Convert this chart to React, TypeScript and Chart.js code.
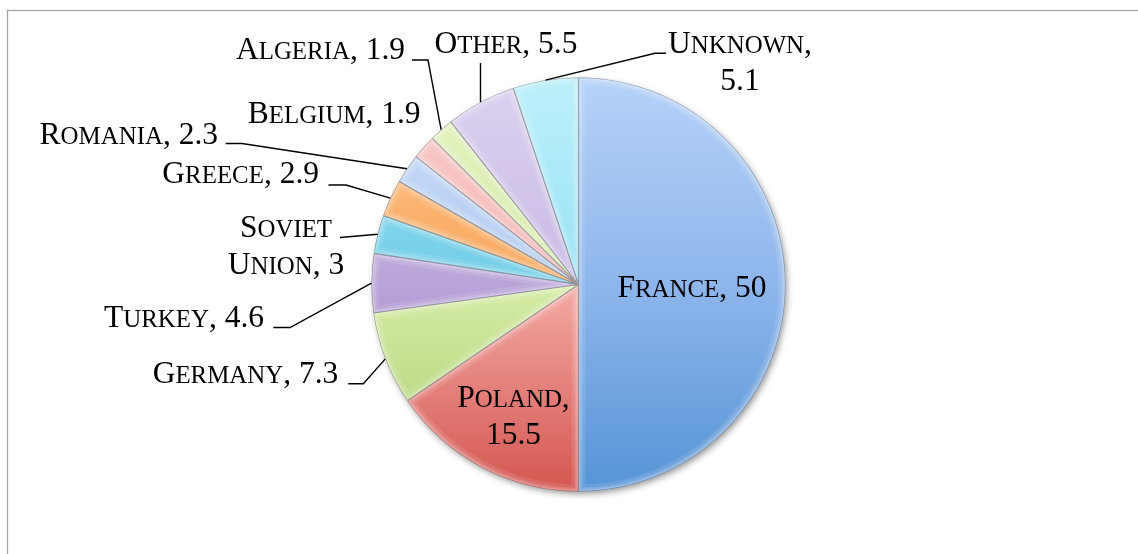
import React, { useEffect, useRef } from 'react';
import Chart from 'chart.js/auto';

// ---- data ----
const categories = ['France', 'Poland', 'Germany', 'Turkey', 'Soviet Union', 'Greece', 'Romania', 'Belgium', 'Algeria', 'Other', 'Unknown'];
const values = [50, 15.5, 7.3, 4.6, 3, 2.9, 2.3, 1.9, 1.9, 5.5, 5.1];

// ---- styles: vertical gradient stops per slice (top, middle, bottom) ----
const colorTop = ['#B6D2F8', '#FBD3D0', '#EAF6CF', '#DCD0F0', '#A6E6F6', '#FFCB98', '#CFE0FA', '#FBD0D0', '#E6F4C4', '#DCD2F0', '#BCF0FA'];
const colorMid = ['#8EB6EC', '#F4AAA5', '#D6ECA6', '#B8A4D8', '#6FCCE6', '#F8A458', '#AFC9F0', '#F2B0AE', '#D4EAA6', '#C9B9E4', '#98E2F4'];
const colorBottom = ['#5694D6', '#D45650', '#A9CC6E', '#8E72BA', '#3AAACB', '#EE8A35', '#86A8DC', '#DC8886', '#B8D67E', '#A892D0', '#62CCE6'];

// ---- label layout (offsets from pie centre, px) ----
type Layout = {
  align: 'left' | 'right' | 'center';
  dx: number;
  dy: number;
  wrap?: 'name' | 'value';
  leader?: { sx: number; ex: number; y: number } | { vertical: true; y: number };
};
const labelLayout: Layout[] = [
  { align: 'center', dx: 113.5, dy: 12.2 },
  { align: 'center', dx: -65, dy: 122.2, wrap: 'value' },
  { align: 'right', dx: -240.2, dy: 98.8, leader: { sx: -230.2, ex: -215.2, y: 99.3 } },
  { align: 'right', dx: -314.5, dy: 42.8, leader: { sx: -305.2, ex: -288.5, y: 43 } },
  { align: 'center', dx: -292.5, dy: -47.2, wrap: 'name', leader: { sx: -238.5, ex: -238.5, y: -47 } },
  { align: 'right', dx: -259.5, dy: -101.5, leader: { sx: -250, ex: -232.5, y: -99.5 } },
  { align: 'right', dx: -360.5, dy: -140.5, leader: { sx: -352.8, ex: -336.5, y: -141 } },
  { align: 'right', dx: -157.9, dy: -161.8 },
  { align: 'right', dx: -173.5, dy: -225.5, leader: { sx: -166.5, ex: -150.5, y: -224.5 } },
  { align: 'center', dx: -72.5, dy: -231.8, leader: { vertical: true, y: -221.5 } },
  { align: 'center', dx: 161.5, dy: -231.5, wrap: 'value', leader: { sx: 87.5, ex: 76.5, y: -231.2 } },
];

const FONT_SIZE = 31.5;
const SMALL = 0.79;
const LINE_H = 37;
const FAMILY = '"Liberation Serif", "Times New Roman", serif';

function segs(text: string) {
  const out: { t: string; small: boolean }[] = [];
  for (const ch of text) {
    const small = ch !== ch.toUpperCase();
    const t = small ? ch.toUpperCase() : ch;
    const last = out[out.length - 1];
    if (last && last.small === small) last.t += t;
    else out.push({ t, small });
  }
  return out;
}

function drawSmallCaps(ctx: CanvasRenderingContext2D, text: string, x: number, y: number, align: string) {
  const parts = segs(text);
  let total = 0;
  const widths: number[] = [];
  for (const p of parts) {
    ctx.font = `${p.small ? FONT_SIZE * SMALL : FONT_SIZE}px ${FAMILY}`;
    const w = ctx.measureText(p.t).width;
    widths.push(w);
    total += w;
  }
  let cx = align === 'right' ? x - total : align === 'center' ? x - total / 2 : x;
  ctx.textAlign = 'left';
  ctx.textBaseline = 'alphabetic';
  parts.forEach((p, i) => {
    ctx.font = `${p.small ? FONT_SIZE * SMALL : FONT_SIZE}px ${FAMILY}`;
    ctx.fillText(p.t, cx, y);
    cx += widths[i];
  });
}

function pieGeom(chart: any) {
  const a = chart.chartArea;
  const cx = (a.left + a.right) / 2;
  const cy = (a.top + a.bottom) / 2;
  const r = Math.min(a.right - a.left, a.bottom - a.top) / 2;
  return { cx, cy, r };
}

const framePlugin = {
  id: 'frame',
  beforeDraw(chart: any) {
    const ctx = chart.ctx;
    ctx.save();
    ctx.fillStyle = '#ffffff';
    ctx.fillRect(0, 0, chart.width, chart.height);
    ctx.strokeStyle = '#A6A6A6';
    ctx.lineWidth = 1.3;
    ctx.strokeRect(7.5, 10.5, chart.width + 50, chart.height + 50);
    ctx.restore();
  },
  beforeDatasetsDraw(chart: any) {
    const ctx = chart.ctx;
    const { cx, cy, r } = pieGeom(chart);
    ctx.save();
    ctx.shadowColor = 'rgba(0,0,0,0.45)';
    ctx.shadowBlur = 7;
    ctx.shadowOffsetX = 2;
    ctx.shadowOffsetY = 3;
    ctx.fillStyle = '#888';
    ctx.beginPath();
    ctx.arc(cx, cy, r - 1, 0, Math.PI * 2);
    ctx.fill();
    ctx.restore();
  },
};

const bevelPlugin = {
  id: 'bevel',
  afterDatasetsDraw(chart: any) {
    const ctx = chart.ctx;
    const meta = chart.getDatasetMeta(0);
    meta.data.forEach((arc: any) => {
      const p = arc.getProps(['x', 'y', 'startAngle', 'endAngle', 'outerRadius']);
      ctx.save();
      ctx.beginPath();
      ctx.moveTo(p.x, p.y);
      ctx.arc(p.x, p.y, p.outerRadius, p.startAngle, p.endAngle);
      ctx.closePath();
      ctx.clip();
      ctx.lineJoin = 'round';
      const layers = [
        [14, 'rgba(255,255,255,0.10)'],
        [8, 'rgba(255,255,255,0.14)'],
        [4, 'rgba(255,255,255,0.20)'],
      ] as const;
      for (const [w, c] of layers) {
        ctx.lineWidth = w;
        ctx.strokeStyle = c;
        ctx.stroke();
      }
      ctx.lineWidth = 1.2;
      ctx.strokeStyle = 'rgba(60,60,70,0.45)';
      ctx.stroke();
      ctx.restore();
    });
  },
};

const labelPlugin = {
  id: 'labels',
  afterDraw(chart: any) {
    const ctx = chart.ctx;
    const { cx, cy } = pieGeom(chart);
    const meta = chart.getDatasetMeta(0);
    ctx.save();
    ctx.fillStyle = '#000';
    ctx.strokeStyle = '#000';
    ctx.lineWidth = 1.4;
    meta.data.forEach((arc: any, i: number) => {
      const L = labelLayout[i];
      const name = categories[i];
      const val = String(values[i]);
      const lines: string[] =
        L.wrap === 'value' ? [name + ',', val] :
        L.wrap === 'name' ? [name.split(' ')[0], name.split(' ').slice(1).join(' ') + ', ' + val] :
        [name + ', ' + val];
      lines.forEach((ln, k) => drawSmallCaps(ctx, ln, cx + L.dx, cy + L.dy + k * LINE_H, L.align));
      if (L.leader) {
        const p = arc.getProps(['x', 'y', 'startAngle', 'endAngle', 'outerRadius']);
        const mid = (p.startAngle + p.endAngle) / 2;
        const ax = p.x + Math.cos(mid) * p.outerRadius;
        const ay = p.y + Math.sin(mid) * p.outerRadius;
        ctx.beginPath();
        if ('vertical' in L.leader) {
          ctx.moveTo(ax, cy + L.leader.y);
        } else {
          ctx.moveTo(cx + L.leader.sx, cy + L.leader.y);
          ctx.lineTo(cx + L.leader.ex, cy + L.leader.y);
        }
        ctx.lineTo(ax, ay);
        ctx.stroke();
      }
    });
    ctx.restore();
  },
};

export default function App() {
  const ref = useRef<HTMLCanvasElement | null>(null);
  useEffect(() => {
    if (!ref.current) return;
    const W = 1138, H = 554;
    const cxT = 578.5, cyT = 284.5, rT = 207;
    const chart = new Chart(ref.current, {
      type: 'pie',
      data: {
        labels: categories,
        datasets: [
          {
            data: values,
            borderWidth: 0,
            hoverOffset: 0,
            offset: 0,
            backgroundColor: (c: any) => {
              const ch = c.chart;
              const a = ch.chartArea;
              const i = c.dataIndex;
              if (!a || i === undefined) return colorMid[i ?? 0];
              const g = ch.ctx.createLinearGradient(0, a.top, 0, a.bottom);
              g.addColorStop(0, colorTop[i]);
              g.addColorStop(0.5, colorMid[i]);
              g.addColorStop(1, colorBottom[i]);
              return g;
            },
          } as any,
        ],
      },
      options: {
        responsive: false,
        animation: false,
        events: [],
        layout: {
          padding: { left: cxT - rT, right: W - (cxT + rT), top: cyT - rT, bottom: H - (cyT + rT) },
        },
        plugins: { legend: { display: false }, tooltip: { enabled: false } },
      },
      plugins: [framePlugin, bevelPlugin, labelPlugin],
    });
    return () => chart.destroy();
  }, []);
  return (
    <div style={{ position: 'fixed', left: 0, top: 0, width: 1138, height: 554, background: '#fff' }}>
      <canvas ref={ref} width={1138} height={554} style={{ display: 'block', width: 1138, height: 554 }} />
    </div>
  );
}
